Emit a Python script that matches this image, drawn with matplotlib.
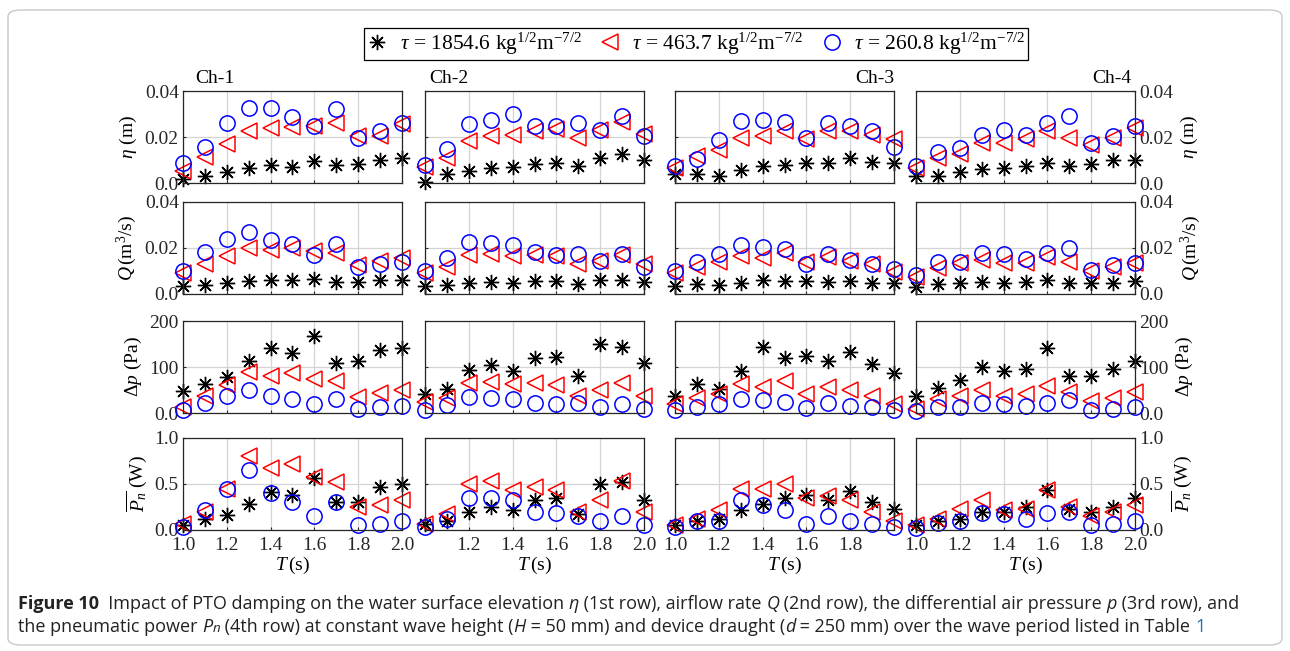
import numpy as np
import matplotlib
matplotlib.use("Agg")
import matplotlib.pyplot as plt
from matplotlib.patches import FancyBboxPatch
from matplotlib.lines import Line2D
from matplotlib.offsetbox import TextArea, HPacker, AnnotationBbox

plt.rcParams["font.family"] = "Liberation Serif"
plt.rcParams["mathtext.fontset"] = "custom"
plt.rcParams["mathtext.rm"] = "Liberation Serif"
plt.rcParams["mathtext.it"] = "Liberation Serif:italic"
plt.rcParams["mathtext.bf"] = "Liberation Serif:bold"

# wave period (s)
T = [1.0, 1.1, 1.2, 1.3, 1.4, 1.5, 1.6, 1.7, 1.8, 1.9, 2.0]
channels = ["Ch-1", "Ch-2", "Ch-3", "Ch-4"]
tau_labels = [r"$\tau$ = 1854.6 kg$^{1/2}$m$^{-7/2}$",
              r"$\tau$ = 463.7 kg$^{1/2}$m$^{-7/2}$",
              r"$\tau$ = 260.8 kg$^{1/2}$m$^{-7/2}$"]

# eta (m), one list per channel
eta_tau1 = [[0.0019, 0.0029, 0.0047, 0.0066, 0.0078, 0.0069, 0.0096, 0.0078, 0.0084, 0.0100, 0.0110],
            [0.0005, 0.0037, 0.0051, 0.0066, 0.0069, 0.0081, 0.0088, 0.0074, 0.0107, 0.0125, 0.0099],
            [0.0037, 0.0037, 0.0032, 0.0056, 0.0076, 0.0078, 0.0085, 0.0088, 0.0110, 0.0091, 0.0088],
            [0.0029, 0.0029, 0.0047, 0.0063, 0.0066, 0.0074, 0.0088, 0.0074, 0.0084, 0.0100, 0.0100]]
eta_tau2 = [[0.0051, 0.0115, 0.0169, 0.0224, 0.0238, 0.0243, 0.0250, 0.0262, 0.0203, 0.0206, 0.0257],
            [0.0069, 0.0107, 0.0184, 0.0206, 0.0210, 0.0228, 0.0235, 0.0196, 0.0232, 0.0265, 0.0213],
            [0.0066, 0.0118, 0.0143, 0.0196, 0.0206, 0.0225, 0.0191, 0.0225, 0.0225, 0.0210, 0.0191],
            [0.0066, 0.0110, 0.0125, 0.0176, 0.0176, 0.0191, 0.0225, 0.0196, 0.0166, 0.0196, 0.0238]]
eta_tau3 = [[0.0085, 0.0157, 0.0262, 0.0326, 0.0326, 0.0287, 0.0249, 0.0321, 0.0196, 0.0225, 0.0262],
            [0.0078, 0.0147, 0.0257, 0.0272, 0.0301, 0.0247, 0.0247, 0.0260, 0.0232, 0.0291, 0.0206],
            [0.0074, 0.0106, 0.0188, 0.0268, 0.0272, 0.0265, 0.0194, 0.0262, 0.0250, 0.0228, 0.0157],
            [0.0076, 0.0135, 0.0154, 0.0210, 0.0232, 0.0210, 0.0262, 0.0290, 0.0174, 0.0204, 0.0247]]

# airflow rate Q (m3/s)
q_tau1 = [[0.0036, 0.0040, 0.0047, 0.0055, 0.0059, 0.0059, 0.0065, 0.0052, 0.0052, 0.0059, 0.0059],
          [0.0033, 0.0040, 0.0047, 0.0052, 0.0047, 0.0055, 0.0058, 0.0043, 0.0062, 0.0062, 0.0052],
          [0.0033, 0.0043, 0.0040, 0.0047, 0.0062, 0.0055, 0.0055, 0.0052, 0.0058, 0.0047, 0.0047],
          [0.0029, 0.0043, 0.0047, 0.0052, 0.0050, 0.0052, 0.0062, 0.0047, 0.0047, 0.0050, 0.0055]]
q_tau2 = [[0.0091, 0.0131, 0.0165, 0.0199, 0.0191, 0.0199, 0.0187, 0.0177, 0.0127, 0.0144, 0.0155],
          [0.0091, 0.0119, 0.0170, 0.0173, 0.0167, 0.0170, 0.0165, 0.0131, 0.0144, 0.0170, 0.0130],
          [0.0091, 0.0119, 0.0137, 0.0165, 0.0158, 0.0177, 0.0141, 0.0163, 0.0144, 0.0131, 0.0095],
          [0.0072, 0.0112, 0.0134, 0.0148, 0.0134, 0.0134, 0.0163, 0.0141, 0.0101, 0.0119, 0.0134]]
q_tau3 = [[0.0098, 0.0184, 0.0239, 0.0270, 0.0235, 0.0216, 0.0170, 0.0216, 0.0119, 0.0130, 0.0141],
          [0.0098, 0.0158, 0.0227, 0.0220, 0.0213, 0.0181, 0.0170, 0.0174, 0.0144, 0.0173, 0.0119],
          [0.0098, 0.0141, 0.0173, 0.0213, 0.0206, 0.0196, 0.0130, 0.0173, 0.0148, 0.0130, 0.0109],
          [0.0083, 0.0141, 0.0141, 0.0177, 0.0173, 0.0151, 0.0177, 0.0199, 0.0105, 0.0124, 0.0134]]

# differential air pressure (Pa)
dp_tau1 = [[48, 62, 78, 113, 142, 131, 167, 109, 113, 136, 141],
           [42, 53, 93, 104, 91, 120, 122, 80, 149, 143, 109],
           [38, 62, 53, 91, 143, 120, 123, 114, 133, 106, 88],
           [36, 54, 71, 99, 91, 95, 141, 80, 80, 95, 114]]
dp_tau2 = [[13, 38, 60, 89, 80, 86, 73, 70, 35, 43, 51],
           [24, 33, 65, 67, 62, 65, 60, 38, 51, 65, 36],
           [20, 33, 42, 62, 57, 70, 42, 57, 49, 36, 19],
           [9, 31, 38, 49, 38, 42, 58, 46, 26, 33, 46]]
dp_tau3 = [[6, 22, 38, 49, 37, 31, 19, 31, 9, 12, 15],
           [6, 17, 35, 33, 31, 22, 19, 22, 13, 20, 9],
           [6, 13, 20, 31, 29, 25, 11, 22, 15, 12, 6],
           [4, 13, 13, 22, 20, 15, 22, 29, 6, 9, 13]]

# mean pneumatic power (W)
pn_tau1 = [[0.05, 0.12, 0.16, 0.28, 0.41, 0.38, 0.57, 0.30, 0.30, 0.47, 0.50],
           [0.07, 0.10, 0.20, 0.25, 0.22, 0.33, 0.35, 0.17, 0.50, 0.52, 0.33],
           [0.05, 0.10, 0.12, 0.22, 0.28, 0.35, 0.38, 0.33, 0.42, 0.30, 0.23],
           [0.05, 0.10, 0.12, 0.20, 0.20, 0.25, 0.43, 0.23, 0.20, 0.25, 0.35]]
pn_tau2 = [[0.07, 0.20, 0.45, 0.80, 0.67, 0.72, 0.58, 0.52, 0.25, 0.27, 0.33],
           [0.07, 0.17, 0.50, 0.53, 0.43, 0.47, 0.43, 0.20, 0.33, 0.53, 0.20],
           [0.05, 0.12, 0.22, 0.45, 0.45, 0.50, 0.35, 0.37, 0.33, 0.20, 0.10],
           [0.05, 0.12, 0.23, 0.33, 0.22, 0.23, 0.43, 0.25, 0.15, 0.20, 0.27]]
pn_tau3 = [[0.03, 0.22, 0.45, 0.65, 0.40, 0.30, 0.15, 0.30, 0.05, 0.07, 0.10],
           [0.03, 0.12, 0.35, 0.35, 0.33, 0.20, 0.18, 0.15, 0.10, 0.15, 0.05],
           [0.03, 0.10, 0.10, 0.33, 0.27, 0.22, 0.07, 0.15, 0.10, 0.07, 0.03],
           [0.02, 0.08, 0.10, 0.18, 0.17, 0.12, 0.18, 0.20, 0.05, 0.07, 0.10]]

rows = [
    (eta_tau1, eta_tau2, eta_tau3, 0.04, [0, 0.02, 0.04], ["0.0", "0.02", "0.04"], r"$\eta$ (m)"),
    (q_tau1, q_tau2, q_tau3, 0.04, [0, 0.02, 0.04], ["0.0", "0.02", "0.04"], r"$Q\,$(m$^3$/s)"),
    (dp_tau1, dp_tau2, dp_tau3, 200, [0, 100, 200], ["0.0", "100", "200"], r"$\Delta p$ (Pa)"),
    (pn_tau1, pn_tau2, pn_tau3, 1.0, [0, 0.5, 1.0], ["0.0", "0.5", "1.0"], r"$\overline{P_n}$ (W)"),
]
xtl = ["1.0", "1.2", "1.4", "1.6", "1.8", "2.0"]

W, H = 1290, 651
fig = plt.figure(figsize=(W / 100, H / 100), dpi=100)

# rounded frame around the figure panel
frame = FancyBboxPatch((8 / W, 6 / H), 1274 / W, 635 / H, boxstyle="round,pad=0,rounding_size=0.01",
                       transform=fig.transFigure, fc="none", ec="#c8c8c8", lw=1.0, zorder=-1)
fig.patches.append(frame)

col_left = [183, 425, 675, 916]
row_top = [91, 202, 321, 438]
aw, ah = 219, 92

star = (8, 2, 0)
styles = [dict(marker=star, color="black", ms=11, mew=1.0, ls="none"),
          dict(marker="<", color="red", mfc="none", ms=11, mew=1.1, ls="none"),
          dict(marker="o", color="blue", mfc="none", ms=11, mew=1.1, ls="none")]

fs = 14
for r, (s1, s2, s3, ymax, yt, ytl, ylab) in enumerate(rows):
    for c in range(4):
        ax = fig.add_axes([col_left[c] / W, 1 - (row_top[r] + ah) / H, aw / W, ah / H])
        for data, st in zip((s1, s2, s3), styles):
            ax.plot(T, data[c], clip_on=False, **st)
        ax.set_xlim(1.0, 2.0)
        ax.set_ylim(0, ymax)
        ax.set_xticks([1.0, 1.2, 1.4, 1.6, 1.8, 2.0])
        ax.set_yticks(yt)
        ax.grid(True, color="#d4d4d4", lw=0.9)
        ax.set_axisbelow(True)
        ax.tick_params(direction="in", length=2, labelsize=fs, colors="#262626", pad=3)
        for sp in ax.spines.values():
            sp.set_color("#262626")
            sp.set_linewidth(0.9)
        if r == 3:
            # neighbouring panels share one label where their edges meet
            if c == 1:
                ax.set_xticklabels([""] + xtl[1:])
            elif c == 2:
                ax.set_xticklabels(xtl[:-1] + [""])
            else:
                ax.set_xticklabels(xtl)
            ax.tick_params(axis="x", pad=5)
            ax.set_xlabel(r"$T\,$(s)", fontsize=fs, labelpad=1)
        else:
            ax.set_xticklabels([])
        if c == 0:
            ax.set_yticklabels(ytl)
            ax.set_ylabel(ylab, fontsize=fs, labelpad=4)
        elif c == 3:
            ax.yaxis.tick_right()
            ax.yaxis.set_label_position("right")
            ax.set_yticklabels(ytl)
            ax.set_ylabel(ylab, fontsize=fs, labelpad=4)
        else:
            ax.set_yticklabels([])
        if r == 0:
            if c < 2:
                ax.text([0.055, 0.02][c], 1.04, channels[c], transform=ax.transAxes,
                        ha="left", va="bottom", fontsize=fs)
            else:
                ax.text([1.0, 0.985][c - 2], 1.04, channels[c], transform=ax.transAxes,
                        ha="right", va="bottom", fontsize=fs)

handles = [Line2D([], [], **st) for st in styles]
leg = fig.legend(handles, tau_labels, ncol=3, loc="center", bbox_to_anchor=(696 / W, 1 - 44 / H),
                 fontsize=15.5, frameon=True, fancybox=False, edgecolor="black", framealpha=1,
                 handlelength=1.0, handletextpad=0.55, columnspacing=0.8, borderpad=0.12)
leg.get_frame().set_linewidth(0.9)

# caption
cap = dict(family="Open Sans", size=13, color="#222222")
capi = dict(cap, style="italic")
line1 = [("Figure 10", dict(cap, weight="bold")),
         ("  Impact of PTO damping on the water surface elevation ", cap), ("η", capi),
         (" (1st row), airflow rate ", cap), ("Q", capi),
         (" (2nd row), the differential air pressure ", cap), ("p", capi),
         (" (3rd row), and", cap)]
line2 = [("the pneumatic power ", cap), ("P", capi), ("n", dict(capi, size=9.5)),
         (" (4th row) at constant wave height (", cap), ("H", capi),
         (" = 50 mm) and device draught (", cap), ("d", capi),
         (" = 250 mm) over the wave period listed in Table ", cap),
         ("1", dict(cap, color="#1f6fc5"))]
for parts, ypix in ((line1, 604), (line2, 627)):
    box = HPacker(children=[TextArea(t, textprops=p) for t, p in parts], pad=0, sep=0, align="baseline")
    ab = AnnotationBbox(box, (18 / W, 1 - ypix / H), xycoords="figure fraction",
                        box_alignment=(0, 0.5), frameon=False, pad=0)
    fig.add_artist(ab)

fig.savefig("out.png", dpi=100)
